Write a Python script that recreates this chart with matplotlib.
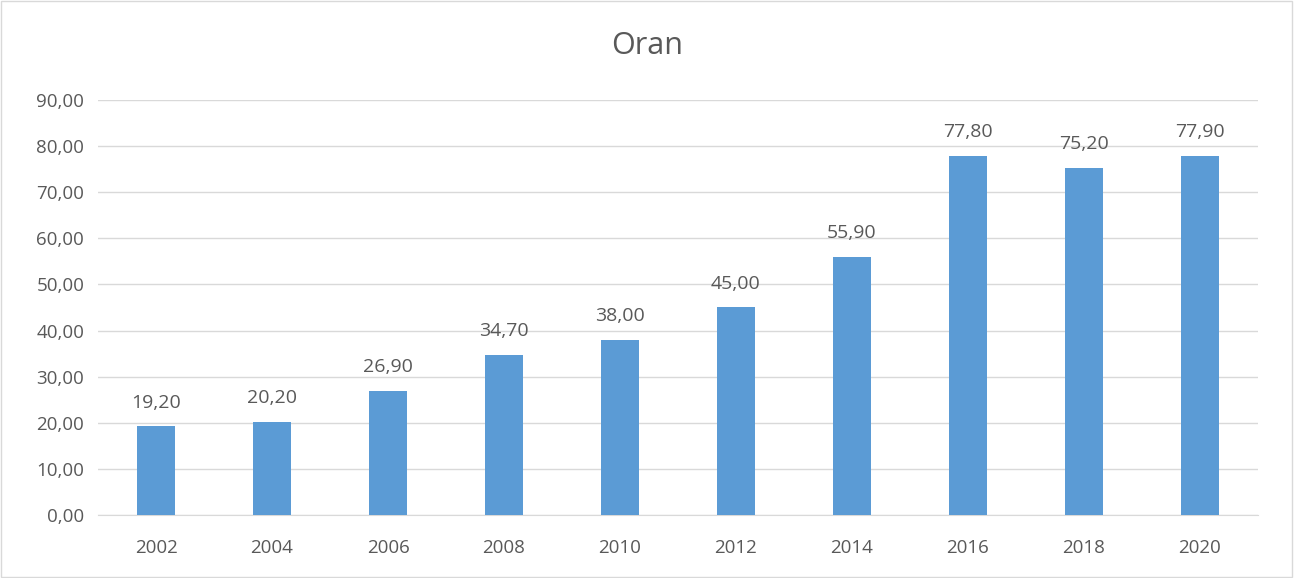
import matplotlib.pyplot as plt
from matplotlib.patches import Rectangle

years = ["2002", "2004", "2006", "2008", "2010", "2012", "2014", "2016", "2018", "2020"]
oran = [19.20, 20.20, 26.90, 34.70, 38.00, 45.00, 55.90, 77.80, 75.20, 77.90]
yticks = [0, 10, 20, 30, 40, 50, 60, 70, 80, 90]

txt = "#595959"
plt.rcParams['font.family'] = ['Open Sans', 'DejaVu Sans']

fig = plt.figure(figsize=(12.95, 5.78), dpi=100)
ax = fig.add_axes([0.0757, 0.109, 0.8957, 0.718])

x = range(len(years))
bars = ax.bar(x, oran, width=0.32, color="#5B9BD5", zorder=3)
for i, v in enumerate(oran):
    ax.text(i, v + 3.2, f"{v:.2f}".replace(".", ","), ha="center", va="bottom",
            fontsize=14, color=txt)

ax.set_xlim(-0.5, len(years) - 0.5)
ax.set_ylim(0, 90)
ax.set_yticks(yticks)
ax.set_yticklabels([f"{t:.2f}".replace(".", ",") for t in yticks])
ax.set_xticks(list(x))
ax.set_xticklabels(years)
ax.tick_params(axis="both", length=0, labelsize=13.5, labelcolor=txt)
ax.tick_params(axis="x", pad=17)
ax.tick_params(axis="y", pad=10)
ax.grid(axis="y", color="#D9D9D9", linewidth=1, zorder=0)
for s in ["top", "right", "left"]:
    ax.spines[s].set_visible(False)
ax.spines["bottom"].set_color("#D9D9D9")

fig.text(0.5, 0.92, "Oran", ha="center", va="center", fontsize=22, color=txt)
fig.patches.append(Rectangle((0.001, 0.002), 0.997, 0.996, transform=fig.transFigure,
                             fill=False, edgecolor="#D9D9D9", linewidth=1))

fig.savefig("out.png", dpi=100)
